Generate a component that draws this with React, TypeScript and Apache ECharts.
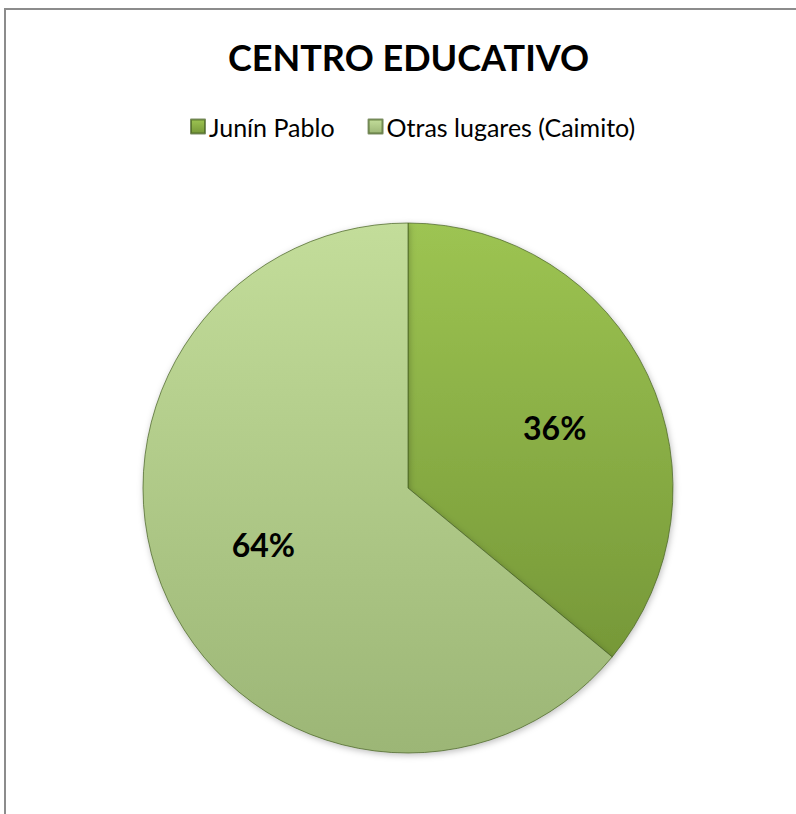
import React, { useEffect, useRef } from "react";
import * as echarts from "echarts";

const titleText = "CENTRO EDUCATIVO";
const categories = ["Junín Pablo", "Otras lugares (Caimito)"];
const values = [36, 64];
const topColors = ["#9dc452", "#c3dd9a"];
const bottomColors = ["#769838", "#9cb676"];
const labelOffsets = [[1, 8], [1, -12]];

export default function App() {
  const ref = useRef<HTMLDivElement>(null);
  useEffect(() => {
    if (!ref.current) return;
    const chart = echarts.init(ref.current, undefined, { renderer: "svg" });
    const grad = (i: number) =>
      new echarts.graphic.LinearGradient(0, 0, 0, 1, [
        { offset: 0, color: topColors[i] },
        { offset: 1, color: bottomColors[i] },
      ]);
    const data = categories.map((name, i) => ({
      name,
      value: values[i],
      itemStyle: { color: grad(i) },
    }));
    chart.setOption({
      animation: false,
      backgroundColor: "#ffffff",
      title: {
        text: titleText,
        left: 223,
        top: 34,
        textStyle: { fontFamily: "Lato", fontWeight: "bold", fontSize: 36, color: "#000" },
      },
      legend: {
        top: 109,
        left: 185,
        icon: "rect",
        itemWidth: 14,
        itemHeight: 14,
        itemGap: 33,
        textStyle: { fontFamily: "Lato", fontSize: 25, color: "#000", padding: [0, 0, 0, -1] },
        data: categories,
      },
      graphic: [
        {
          type: "rect",
          shape: { x: 5, y: 9, width: 1200, height: 1200 },
          style: { fill: "none", stroke: "#8c8c8c", lineWidth: 2 },
          silent: true,
        },
      ],
      series: [
        {
          type: "pie",
          center: [408, 488],
          radius: [0, 265],
          startAngle: 90,
          clockwise: true,
          label: { show: false },
          labelLine: { show: false },
          itemStyle: {
            borderColor: "rgba(70,95,35,0.7)",
            borderWidth: 1,
            shadowBlur: 6,
            shadowColor: "rgba(0,0,0,0.25)",
            shadowOffsetX: 1,
            shadowOffsetY: 2,
          },
          emphasis: { disabled: true },
          data,
        },
        {
          type: "pie",
          center: [408, 488],
          radius: [0, 316],
          startAngle: 90,
          clockwise: true,
          silent: true,
          itemStyle: { color: "rgba(0,0,0,0)" },
          label: {
            show: true,
            position: "inside",
            formatter: "{d}%",
            fontFamily: "Lato",
            fontWeight: "bold",
            fontSize: 32,
            color: "#000",
          },
          labelLine: { show: false },
          emphasis: { disabled: true },
          data: categories.map((name, i) => ({
            name,
            value: values[i],
            label: { offset: labelOffsets[i] },
          })),
        },
      ],
    });
    return () => chart.dispose();
  }, []);
  return (
    <div
      ref={ref}
      style={{ position: "fixed", left: 0, top: 0, width: 796, height: 814 }}
    />
  );
}
